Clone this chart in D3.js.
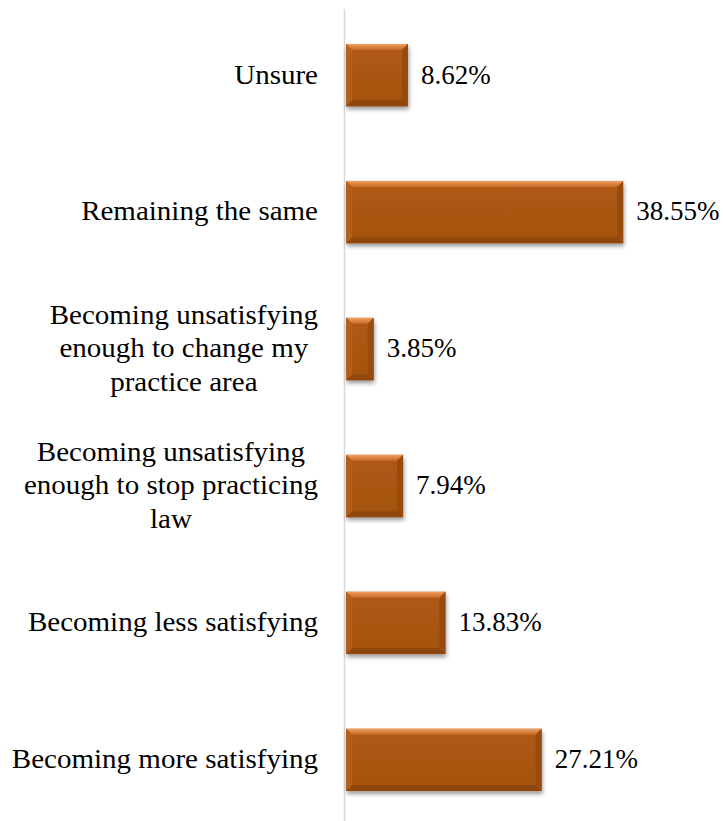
<!DOCTYPE html>
<html><head><meta charset="utf-8">
<script src="https://cdn.jsdelivr.net/npm/d3@7"></script>
<style>html,body{margin:0;padding:0;background:#fff;}svg{display:block;}</style>
</head><body>
<script>
const categories = [
  "Unsure",
  "Remaining the same",
  "Becoming unsatisfying enough to change my practice area",
  "Becoming unsatisfying enough to stop practicing law",
  "Becoming less satisfying",
  "Becoming more satisfying"
];
const categoryLines = [
  ["Unsure"],
  ["Remaining the same"],
  ["Becoming unsatisfying", "enough to change my", "practice area"],
  ["Becoming unsatisfying", "enough to stop practicing", "law"],
  ["Becoming less satisfying"],
  ["Becoming more satisfying"]
];
const values = [8.62, 38.55, 3.85, 7.94, 13.83, 27.21];
const valueLabels = ["8.62%", "38.55%", "3.85%", "7.94%", "13.83%", "27.21%"];

const W = 723, H = 821;
const svg = d3.select("body").append("svg").attr("width", W).attr("height", H);
const defs = svg.append("defs");
const f = defs.append("filter").attr("id","shadow").attr("x","-10%").attr("y","-20%").attr("width","130%").attr("height","160%");
f.append("feDropShadow").attr("dx",1).attr("dy",3).attr("stdDeviation",2.2).attr("flood-color","#000").attr("flood-opacity",0.4);
const gTop = defs.append("linearGradient").attr("id","gtop").attr("x1",0).attr("y1",0).attr("x2",0).attr("y2",1);
gTop.append("stop").attr("offset","0%").attr("stop-color","#f2a062");
gTop.append("stop").attr("offset","100%").attr("stop-color","#c66a22");
const gBody = defs.append("linearGradient").attr("id","gbody").attr("x1",0).attr("y1",0).attr("x2",0).attr("y2",1);
gBody.append("stop").attr("offset","0%").attr("stop-color","#b05a14");
gBody.append("stop").attr("offset","100%").attr("stop-color","#a3520f");

const x = d3.scaleLinear().domain([0, 40]).range([346, 346 + 7.19 * 40]);
const y = d3.scaleBand().domain(categories).range([7, 828]).paddingInner(0.545).paddingOuter(0.27);

const font = "'Liberation Serif','Times New Roman',serif";
const fs = 27;
const stretch = 1.075;

// axis line
svg.append("line").attr("x1", 344.5).attr("x2", 344.5).attr("y1", 9).attr("y2", H)
  .attr("stroke", "#d9d9d9").attr("stroke-width", 1.6);

const b = 6; // bevel size
const bars = svg.selectAll("g.bar").data(values).enter().append("g").attr("class","bar");
bars.each(function(v, i) {
  const g = d3.select(this);
  const x0 = x(0), x1 = x(v), y0 = y(categories[i]), y1 = y0 + y.bandwidth();
  g.append("rect").attr("x", x0).attr("y", y0).attr("width", x1 - x0).attr("height", y1 - y0)
    .attr("fill", "url(#gbody)").attr("filter", "url(#shadow)");
  g.append("polygon").attr("points", [[x0,y0],[x1,y0],[x1-b,y0+b],[x0+b,y0+b]].join(" ")).attr("fill","url(#gtop)");
  g.append("polygon").attr("points", [[x0,y1],[x1,y1],[x1-b,y1-b],[x0+b,y1-b]].join(" ")).attr("fill","#8f470d");
  g.append("polygon").attr("points", [[x0,y0],[x0+b,y0+b],[x0+b,y1-b],[x0,y1]].join(" ")).attr("fill","#b3601a");
  g.append("polygon").attr("points", [[x1,y0],[x1-b,y0+b],[x1-b,y1-b],[x1,y1]].join(" ")).attr("fill","#984b0e");
});

// value labels
svg.selectAll("text.val").data(values).enter().append("text").attr("class","val")
  .attr("x", d => x(d) + 13)
  .attr("y", (d, i) => y(categories[i]) + y.bandwidth() / 2)
  .attr("dy", "0.31em")
  .attr("font-family", font).attr("font-size", fs).attr("fill", "#000")
  .text((d, i) => valueLabels[i]);

// category labels
const lh = 33.5;
categoryLines.forEach((lines, i) => {
  const cy = y(categories[i]) + y.bandwidth() / 2;
  const g = svg.append("g").attr("transform", `translate(318,${cy}) scale(${stretch},1)`);
  const t = g.append("text").attr("font-family", font).attr("font-size", fs).attr("fill", "#000")
    .attr("text-anchor", "middle");
  const tsp = lines.map((ln, k) => t.append("tspan").attr("y", (k - (lines.length - 1) / 2) * lh).attr("dy", "0.31em").text(ln));
  let maxW = 0;
  tsp.forEach(s => { maxW = Math.max(maxW, s.node().getComputedTextLength()); });
  tsp.forEach(s => s.attr("x", -maxW / 2));
});
</script>
</body></html>
